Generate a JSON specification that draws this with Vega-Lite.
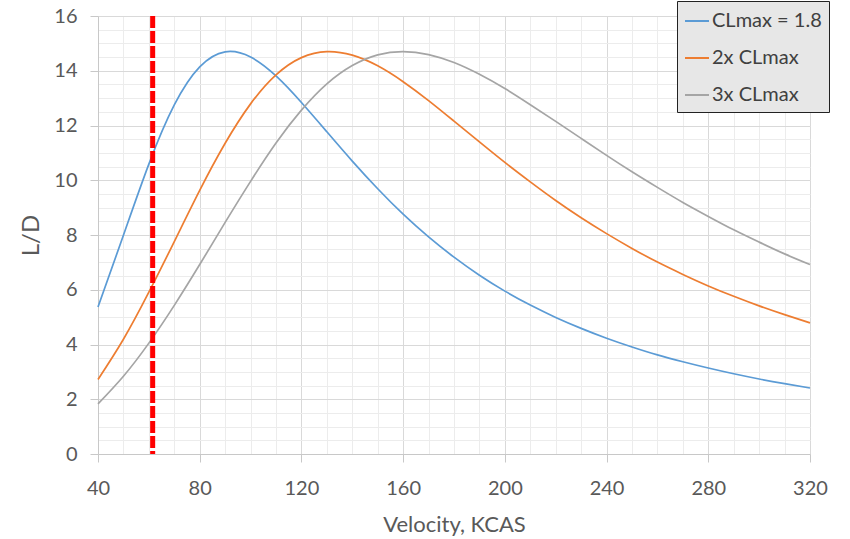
{
  "$schema": "https://vega.github.io/schema/vega-lite/v6.json",
  "width": 712,
  "height": 438,
  "autosize": "none",
  "padding": {"left": 98, "top": 16, "right": 40, "bottom": 85},
  "background": "white",
  "config": {
    "font": "Lato",
    "view": {"stroke": null},
    "axis": {
      "labelFont": "Lato",
      "titleFont": "Lato",
      "labelColor": "#595959",
      "titleColor": "#595959",
      "titleFontWeight": "normal"
    }
  },
  "datasets": {
    "curves": [
      {"V": 40, "LD": 5.37, "series": "CLmax = 1.8"},
      {"V": 50, "LD": 7.99, "series": "CLmax = 1.8"},
      {"V": 60, "LD": 10.59, "series": "CLmax = 1.8"},
      {"V": 70, "LD": 12.75, "series": "CLmax = 1.8"},
      {"V": 80, "LD": 14.14, "series": "CLmax = 1.8"},
      {"V": 90, "LD": 14.69, "series": "CLmax = 1.8"},
      {"V": 100, "LD": 14.5, "series": "CLmax = 1.8"},
      {"V": 110, "LD": 13.81, "series": "CLmax = 1.8"},
      {"V": 120, "LD": 12.84, "series": "CLmax = 1.8"},
      {"V": 130, "LD": 11.77, "series": "CLmax = 1.8"},
      {"V": 140, "LD": 10.7, "series": "CLmax = 1.8"},
      {"V": 150, "LD": 9.69, "series": "CLmax = 1.8"},
      {"V": 160, "LD": 8.76, "series": "CLmax = 1.8"},
      {"V": 170, "LD": 7.93, "series": "CLmax = 1.8"},
      {"V": 180, "LD": 7.19, "series": "CLmax = 1.8"},
      {"V": 190, "LD": 6.53, "series": "CLmax = 1.8"},
      {"V": 200, "LD": 5.95, "series": "CLmax = 1.8"},
      {"V": 210, "LD": 5.44, "series": "CLmax = 1.8"},
      {"V": 220, "LD": 4.99, "series": "CLmax = 1.8"},
      {"V": 230, "LD": 4.59, "series": "CLmax = 1.8"},
      {"V": 240, "LD": 4.23, "series": "CLmax = 1.8"},
      {"V": 250, "LD": 3.91, "series": "CLmax = 1.8"},
      {"V": 260, "LD": 3.62, "series": "CLmax = 1.8"},
      {"V": 270, "LD": 3.37, "series": "CLmax = 1.8"},
      {"V": 280, "LD": 3.14, "series": "CLmax = 1.8"},
      {"V": 290, "LD": 2.93, "series": "CLmax = 1.8"},
      {"V": 300, "LD": 2.74, "series": "CLmax = 1.8"},
      {"V": 310, "LD": 2.57, "series": "CLmax = 1.8"},
      {"V": 320, "LD": 2.41, "series": "CLmax = 1.8"},
      {"V": 40, "LD": 2.72, "series": "2x CLmax"},
      {"V": 50, "LD": 4.19, "series": "2x CLmax"},
      {"V": 60, "LD": 5.91, "series": "2x CLmax"},
      {"V": 70, "LD": 7.76, "series": "2x CLmax"},
      {"V": 80, "LD": 9.63, "series": "2x CLmax"},
      {"V": 90, "LD": 11.35, "series": "2x CLmax"},
      {"V": 100, "LD": 12.79, "series": "2x CLmax"},
      {"V": 110, "LD": 13.85, "series": "2x CLmax"},
      {"V": 120, "LD": 14.48, "series": "2x CLmax"},
      {"V": 130, "LD": 14.7, "series": "2x CLmax"},
      {"V": 140, "LD": 14.57, "series": "2x CLmax"},
      {"V": 150, "LD": 14.18, "series": "2x CLmax"},
      {"V": 160, "LD": 13.6, "series": "2x CLmax"},
      {"V": 170, "LD": 12.91, "series": "2x CLmax"},
      {"V": 180, "LD": 12.16, "series": "2x CLmax"},
      {"V": 190, "LD": 11.4, "series": "2x CLmax"},
      {"V": 200, "LD": 10.65, "series": "2x CLmax"},
      {"V": 210, "LD": 9.94, "series": "2x CLmax"},
      {"V": 220, "LD": 9.26, "series": "2x CLmax"},
      {"V": 230, "LD": 8.63, "series": "2x CLmax"},
      {"V": 240, "LD": 8.05, "series": "2x CLmax"},
      {"V": 250, "LD": 7.51, "series": "2x CLmax"},
      {"V": 260, "LD": 7.01, "series": "2x CLmax"},
      {"V": 270, "LD": 6.56, "series": "2x CLmax"},
      {"V": 280, "LD": 6.14, "series": "2x CLmax"},
      {"V": 290, "LD": 5.76, "series": "2x CLmax"},
      {"V": 300, "LD": 5.41, "series": "2x CLmax"},
      {"V": 310, "LD": 5.09, "series": "2x CLmax"},
      {"V": 320, "LD": 4.79, "series": "2x CLmax"},
      {"V": 40, "LD": 1.83, "series": "3x CLmax"},
      {"V": 50, "LD": 2.84, "series": "3x CLmax"},
      {"V": 60, "LD": 4.05, "series": "3x CLmax"},
      {"V": 70, "LD": 5.43, "series": "3x CLmax"},
      {"V": 80, "LD": 6.92, "series": "3x CLmax"},
      {"V": 90, "LD": 8.46, "series": "3x CLmax"},
      {"V": 100, "LD": 9.96, "series": "3x CLmax"},
      {"V": 110, "LD": 11.36, "series": "3x CLmax"},
      {"V": 120, "LD": 12.56, "series": "3x CLmax"},
      {"V": 130, "LD": 13.52, "series": "3x CLmax"},
      {"V": 140, "LD": 14.19, "series": "3x CLmax"},
      {"V": 150, "LD": 14.58, "series": "3x CLmax"},
      {"V": 160, "LD": 14.7, "series": "3x CLmax"},
      {"V": 170, "LD": 14.59, "series": "3x CLmax"},
      {"V": 180, "LD": 14.3, "series": "3x CLmax"},
      {"V": 190, "LD": 13.87, "series": "3x CLmax"},
      {"V": 200, "LD": 13.35, "series": "3x CLmax"},
      {"V": 210, "LD": 12.76, "series": "3x CLmax"},
      {"V": 220, "LD": 12.15, "series": "3x CLmax"},
      {"V": 230, "LD": 11.53, "series": "3x CLmax"},
      {"V": 240, "LD": 10.91, "series": "3x CLmax"},
      {"V": 250, "LD": 10.31, "series": "3x CLmax"},
      {"V": 260, "LD": 9.74, "series": "3x CLmax"},
      {"V": 270, "LD": 9.19, "series": "3x CLmax"},
      {"V": 280, "LD": 8.68, "series": "3x CLmax"},
      {"V": 290, "LD": 8.19, "series": "3x CLmax"},
      {"V": 300, "LD": 7.74, "series": "3x CLmax"},
      {"V": 310, "LD": 7.31, "series": "3x CLmax"},
      {"V": 320, "LD": 6.92, "series": "3x CLmax"}
    ],
    "limit": [{"V": 61.5}]
  },
  "layer": [
    {
      "data": {"name": "curves"},
      "mark": {"type": "line", "opacity": 0},
      "encoding": {
        "detail": {"field": "series"},
        "x": {
          "field": "V", "type": "quantitative",
          "scale": {"domain": [40, 320], "nice": false, "zero": false},
          "axis": {
            "orient": "bottom",
            "values": [40,50,60,70,80,90,100,110,120,130,140,150,160,170,180,190,200,210,220,230,240,250,260,270,280,290,300,310,320],
            "grid": true, "gridColor": "#ececec", "gridWidth": 1,
            "labels": false, "ticks": false, "domain": false, "title": null
          }
        },
        "y": {
          "field": "LD", "type": "quantitative",
          "scale": {"domain": [0, 16], "nice": false},
          "axis": {
            "orient": "left",
            "values": [0,0.5,1,1.5,2,2.5,3,3.5,4,4.5,5,5.5,6,6.5,7,7.5,8,8.5,9,9.5,10,10.5,11,11.5,12,12.5,13,13.5,14,14.5,15,15.5,16],
            "grid": true, "gridColor": "#ececec", "gridWidth": 1,
            "labels": false, "ticks": false, "domain": false, "title": null
          }
        }
      }
    },
    {
      "data": {"name": "curves"},
      "mark": {"type": "line", "interpolate": "natural", "strokeWidth": 1.7},
      "encoding": {
        "x": {
          "field": "V", "type": "quantitative",
          "axis": {
            "orient": "bottom",
            "values": [40, 80, 120, 160, 200, 240, 280, 320],
            "grid": true, "gridColor": "#d9d9d9",
            "domainColor": "#c8c8c8", "tickColor": "#c8c8c8", "tickSize": 8,
            "labelFontSize": 20, "labelPadding": 16, "labelFlush": false,
            "title": "Velocity, KCAS", "titleFontSize": 22,
            "titleX": 356, "titleY": 70, "titleBaseline": "middle", "titleAlign": "center"
          }
        },
        "y": {
          "field": "LD", "type": "quantitative",
          "axis": {
            "orient": "left",
            "values": [0, 2, 4, 6, 8, 10, 12, 14, 16],
            "grid": true, "gridColor": "#d9d9d9",
            "domainColor": "#c8c8c8", "tickColor": "#c8c8c8", "tickSize": 8,
            "labelFontSize": 20, "labelPadding": 13, "labelFlush": false,
            "title": "L/D", "titleFontSize": 24,
            "titleX": -67, "titleY": 219, "titleAngle": -90,
            "titleBaseline": "middle", "titleAlign": "center"
          }
        },
        "color": {
          "field": "series", "type": "nominal",
          "scale": {
            "domain": ["CLmax = 1.8", "2x CLmax", "3x CLmax"],
            "range": ["#5b9bd5", "#ed7d31", "#a5a5a5"]
          },
          "legend": {
            "orient": "none", "legendX": 579, "legendY": -15,
            "title": null,
            "symbolType": "stroke", "symbolSize": 576, "symbolStrokeWidth": 2,
            "labelFontSize": 20, "labelColor": "#404040", "labelOffset": 2,
            "rowPadding": 14, "padding": 7,
            "fillColor": "#e7e7e7", "strokeColor": "#222222"
          }
        }
      }
    },
    {
      "data": {"name": "limit"},
      "mark": {"type": "rule", "color": "#ff0000", "strokeWidth": 5, "strokeDash": [12, 3]},
      "encoding": {
        "x": {"field": "V", "type": "quantitative", "axis": null}
      }
    }
  ],
  "resolve": {"axis": {"x": "independent", "y": "independent"}}
}
